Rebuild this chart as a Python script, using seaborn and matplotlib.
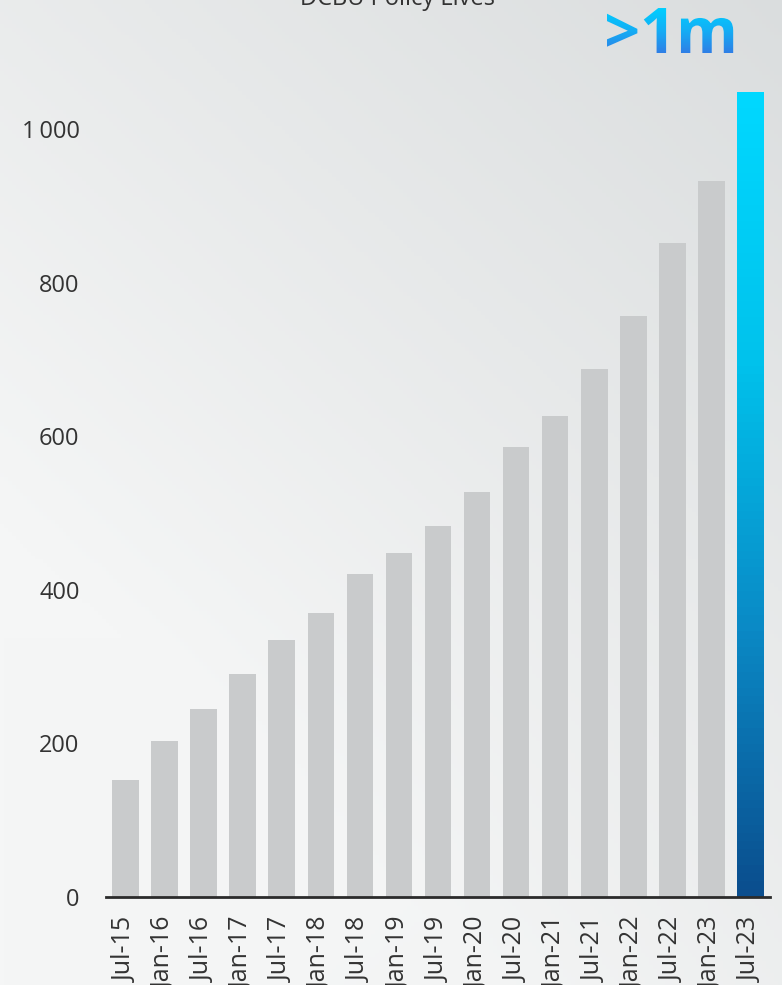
import numpy as np
import matplotlib
matplotlib.use("Agg")
import matplotlib.pyplot as plt
import seaborn as sns
from matplotlib.textpath import TextPath
from matplotlib.patches import PathPatch
from matplotlib.font_manager import FontProperties
from matplotlib.colors import LinearSegmentedColormap

# Policy lives (thousands), half-yearly
periods = ["Jul-15", "Jan-16", "Jul-16", "Jan-17", "Jul-17", "Jan-18", "Jul-18",
           "Jan-19", "Jul-19", "Jan-20", "Jul-20", "Jan-21", "Jul-21", "Jan-22",
           "Jul-22", "Jan-23", "Jul-23"]
lives = [152, 203, 245, 291, 335, 370, 420, 448, 483, 528, 586, 627, 687, 756,
         852, 933, 1048]
y_ticks = [0, 200, 400, 600, 800, 1000]
y_tick_labels = ["0", "200", "400", "600", "800", "1\u2009000"]
title = "DCBU Policy Lives"
badge = ">1m"

sns.set_theme(style="white")
plt.rcParams["font.family"] = ["Open Sans", "DejaVu Sans"]

W, H = 782, 985
fig = plt.figure(figsize=(W / 100, H / 100), dpi=100)

# Soft grey backdrop, lighter towards the lower left
bg = fig.add_axes([0, 0, 1, 1], zorder=-1)
bg.set_xlim(0, W)
bg.set_ylim(0, H)
bg.axis("off")
gx, gy = np.meshgrid(np.linspace(0, 1, 200), np.linspace(0, 1, 250))
# gy: 0 at bottom, 1 at top
t = np.clip(0.55 * gx + 0.75 * gy - 0.35, 0, 1)
t = t + 0.25 * np.clip(0.35 - gy, 0, 1) * gx
light = np.array([0xf5, 0xf6, 0xf6]) / 255
dark = np.array([0xd9, 0xdc, 0xdd]) / 255
img = light[None, None, :] * (1 - t[..., None]) + dark[None, None, :] * t[..., None]
bg.imshow(img, extent=[0, W, 0, H], origin="lower", aspect="auto", zorder=0)

# Title (partly above the canvas)
bg.text(398, H - 5, title, ha="center", va="baseline", fontsize=17,
        color="#333333", zorder=2)

# Gradient ">1m" badge
fp = FontProperties(family="Open Sans", weight="bold")
tp = TextPath((0, 0), badge, size=63, prop=fp)
ext = tp.get_extents()
x0 = 670 - (ext.x0 + ext.x1) / 2
y0 = H - 53
tp = TextPath((x0, y0), badge, size=63, prop=fp)
tpatch = PathPatch(tp, facecolor="none", edgecolor="none")
bg.add_patch(tpatch)
badge_cmap = LinearSegmentedColormap.from_list("badge", ["#2f7fe6", "#14aef5", "#00cfff"])
grad = np.linspace(0, 1, 100).reshape(-1, 1)
bext = tp.get_extents()
im = bg.imshow(grad, cmap=badge_cmap, origin="lower", aspect="auto",
               extent=[bext.x0, bext.x1, bext.y0, bext.y1], zorder=3)
im.set_clip_path(tpatch)

# Main bar chart
ax = fig.add_axes([106 / W, (H - 897) / H, (770 - 106) / W, (897 - 60) / H])
ax.set_facecolor("none")
sns.barplot(x=periods, y=lives, color="#c9cbcc", width=0.68, saturation=1,
            linewidth=0, edgecolor="none", ax=ax, zorder=2)
ax.set_xlim(-0.5, len(periods) - 0.5)
ax.set_ylim(0, 1090)

# Latest bar in a blue gradient
last = ax.patches[-1]
last.set_facecolor("none")
bx, by = last.get_x(), last.get_y()
bw, bh = last.get_width(), last.get_height()
bar_cmap = LinearSegmentedColormap.from_list(
    "bar", ["#0b4e8e", "#0a8ac6", "#00c2ec", "#00d8ff"])
bim = ax.imshow(grad, cmap=bar_cmap, origin="lower", aspect="auto",
                extent=[bx, bx + bw, by, by + bh], zorder=2)
bim.set_clip_path(last)
ax.set_xlim(-0.5, len(periods) - 0.5)
ax.set_ylim(0, 1090)

ax.set_yticks(y_ticks)
ax.set_yticklabels(y_tick_labels)
ax.tick_params(axis="y", length=0, pad=19, labelsize=17, labelcolor="#333333")
ax.tick_params(axis="x", length=0, pad=14, labelsize=18, labelcolor="#333333",
               rotation=90)
for lbl in ax.get_xticklabels():
    lbl.set_va("top")
ax.set_xlabel("")
ax.set_ylabel("")
for side in ["top", "right", "left"]:
    ax.spines[side].set_visible(False)
ax.spines["bottom"].set_color("#2b2b2b")
ax.spines["bottom"].set_linewidth(2)
ax.spines["bottom"].set_zorder(5)
ax.grid(False)

fig.savefig("out.png", dpi=100)
